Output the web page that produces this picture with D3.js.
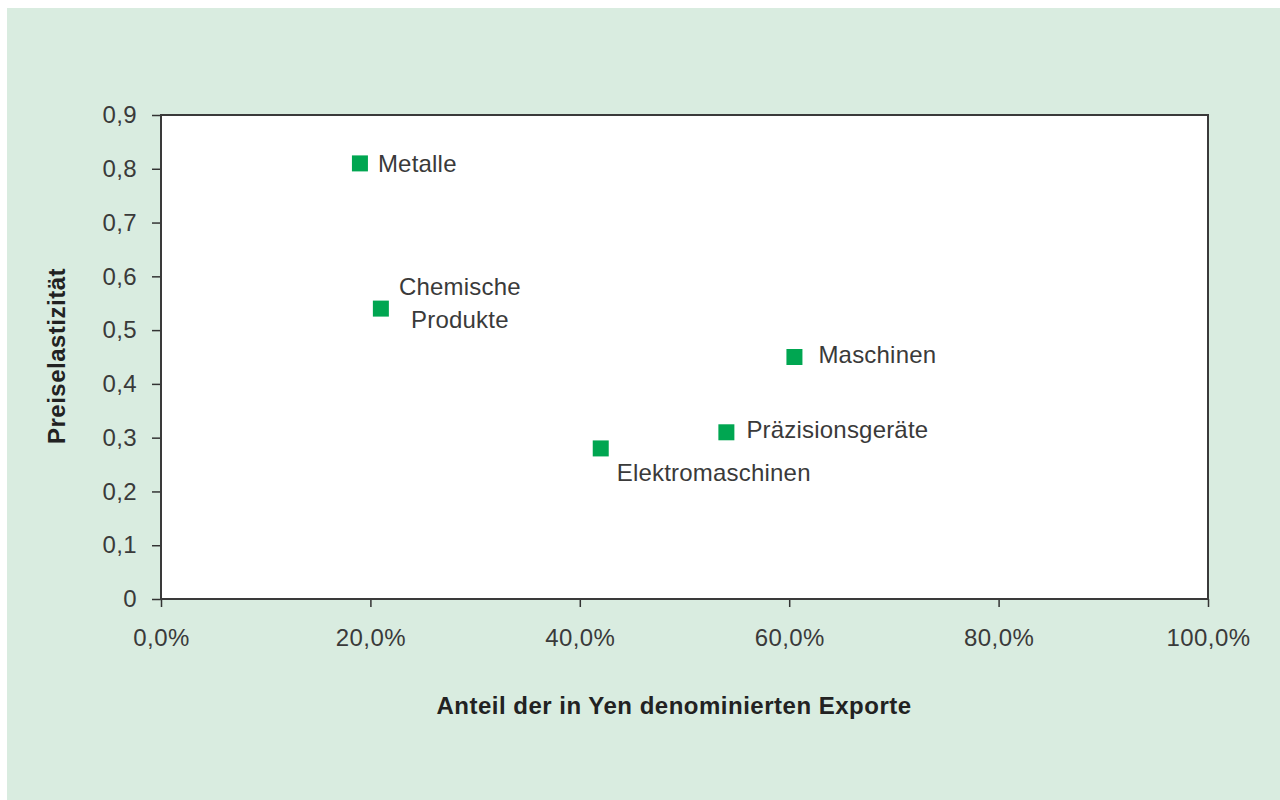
<!DOCTYPE html>
<html>
<head>
<meta charset="utf-8">
<script src="https://cdn.jsdelivr.net/npm/d3@7"></script>
<style>
  body { margin: 0; background: #fff; }
  svg { display: block; }
  .tick text { font-family: "Liberation Sans", Arial, sans-serif; font-size: 24px; letter-spacing: 0.4px; fill: #3a3a3a; }
  .lbl { font-family: "Liberation Sans", Arial, sans-serif; font-size: 24px; letter-spacing: 0.2px; fill: #3a3a3a; }
  .title { font-family: "Liberation Sans", Arial, sans-serif; font-size: 24px; letter-spacing: 0.5px; font-weight: bold; fill: #222; }
</style>
</head>
<body>
<script>
// data
const products = ["Metalle", "Chemische Produkte", "Maschinen", "Präzisionsgeräte", "Elektromaschinen"];
const yenShare = [19.0, 21.0, 60.5, 54.0, 42.0];      // % of exports denominated in yen
const elasticity = [0.81, 0.54, 0.45, 0.31, 0.28];   // price elasticity
const xTicks = [0, 20, 40, 60, 80, 100];
const yTicks = [0, 0.1, 0.2, 0.3, 0.4, 0.5, 0.6, 0.7, 0.8, 0.9];

// where each label sits relative to its marker
const labelPos = {
  "Metalle": { dx: 18, dy: 9, anchor: "start" },
  "Chemische Produkte": { dx: 79, dy: -14, anchor: "middle", lines: ["Chemische", "Produkte"] },
  "Maschinen": { dx: 24, dy: 6, anchor: "start" },
  "Präzisionsgeräte": { dx: 20, dy: 6, anchor: "start" },
  "Elektromaschinen": { dx: 16, dy: 33, anchor: "start" }
};

const width = 1280, height = 800;
const margin = { top: 115, right: 72, bottom: 201, left: 161 };
const chartWidth = width - margin.left - margin.right;
const chartHeight = height - margin.top - margin.bottom;

const svg = d3.select("body").append("svg")
  .attr("width", width)
  .attr("height", height);

// green panel
svg.append("rect")
  .attr("x", 7).attr("y", 8)
  .attr("width", width - 7).attr("height", height - 8)
  .attr("fill", "#d9ece0");

const chartGroup = svg.append("g")
  .attr("transform", `translate(${margin.left}, ${margin.top})`);

chartGroup.append("rect")
  .attr("width", chartWidth).attr("height", chartHeight)
  .attr("fill", "#fff");

let xScale = d3.scaleLinear().domain([0, 100]).range([0, chartWidth]);
let yScale = d3.scaleLinear().domain([0, 0.9]).range([chartHeight, 0]);

const fmtComma = (v, dec) => v.toFixed(dec).replace(".", ",");

let bottomAxis = d3.axisBottom(xScale)
  .tickValues(xTicks)
  .tickSize(8)
  .tickPadding(22)
  .tickFormat(d => fmtComma(d, 1) + "%");
let leftAxis = d3.axisLeft(yScale)
  .tickValues(yTicks)
  .tickSize(9)
  .tickPadding(15)
  .tickFormat(d => d === 0 ? "0" : fmtComma(d, 1));

const xAxisG = chartGroup.append("g")
  .attr("transform", `translate(0, ${chartHeight})`)
  .call(bottomAxis);
const yAxisG = chartGroup.append("g").call(leftAxis);

[xAxisG, yAxisG].forEach(g => {
  g.select(".domain").remove();
  g.selectAll(".tick line").attr("stroke", "#333").attr("stroke-width", 1.5);
});

// plot frame
chartGroup.append("rect")
  .attr("width", chartWidth).attr("height", chartHeight)
  .attr("fill", "none")
  .attr("stroke", "#3a3a3a")
  .attr("stroke-width", 2);

// markers
const size = 16;
const points = products.map((p, i) => ({ name: p, x: yenShare[i], y: elasticity[i] }));

chartGroup.selectAll(".marker")
  .data(points)
  .enter().append("rect")
  .attr("class", "marker")
  .attr("x", d => xScale(d.x) - size / 2)
  .attr("y", d => yScale(d.y) - size / 2)
  .attr("width", size).attr("height", size)
  .attr("fill", "#00a651");

// labels
points.forEach(d => {
  const lp = labelPos[d.name];
  const t = chartGroup.append("text")
    .attr("class", "lbl")
    .attr("x", xScale(d.x) + lp.dx)
    .attr("y", yScale(d.y) + lp.dy)
    .attr("text-anchor", lp.anchor);
  if (lp.lines) {
    lp.lines.forEach((line, k) => {
      t.append("tspan")
        .attr("x", xScale(d.x) + lp.dx)
        .attr("dy", k === 0 ? 0 : 33)
        .text(line);
    });
  } else {
    t.text(d.name);
  }
});

// axis titles
svg.append("text")
  .attr("class", "title")
  .attr("text-anchor", "middle")
  .attr("x", 674)
  .attr("y", 714)
  .text("Anteil der in Yen denominierten Exporte");

svg.append("text")
  .attr("class", "title")
  .attr("text-anchor", "middle")
  .attr("transform", "translate(65, 356) rotate(-90)")
  .text("Preiselastizität");
</script>
</body>
</html>
